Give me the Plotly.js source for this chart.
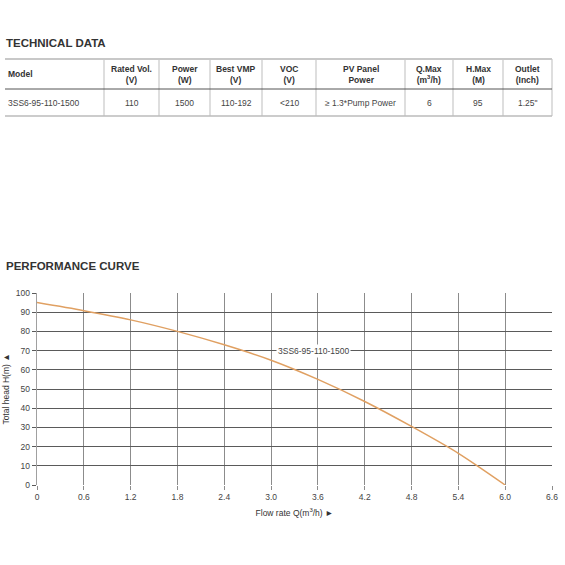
<!DOCTYPE html>
<html><head><meta charset="utf-8">
<script src="https://cdn.plot.ly/plotly-3.0.1.min.js"></script>
<style>html,body{margin:0;padding:0;background:#fff;}#chart{width:565px;height:565px;}</style>
</head><body><div id="chart"></div>
<script>
// ---- Data ----
var tableHeaders = ["Model", "Rated Vol.<br>(V)", "Power<br>(W)", "Best VMP<br>(V)", "VOC<br>(V)", "PV Panel<br>Power", "Q.Max<br>(m<sup>3</sup>/h)", "H.Max<br>(M)", "Outlet<br>(Inch)"];
var tableRow = ["3SS6-95-110-1500", "110", "1500", "110-192", "&lt;210", "\u2265 1.3*Pump Power", "6", "95", "1.25\""];
var flowRate = [0, 0.6, 1.2, 1.8, 2.4, 3.0, 3.6, 4.2, 4.8, 5.4, 6.0];
var totalHead = [95, 90.8, 86, 80, 73, 65, 55, 43.5, 30.5, 16.5, 0];
var curveName = "3SS6-95-110-1500";
var xTickVals = [0, 0.6, 1.2, 1.8, 2.4, 3.0, 3.6, 4.2, 4.8, 5.4, 6.0, 6.6];
var xTickText = ["0", "0.6", "1.2", "1.8", "2.4", "3.0", "3.6", "4.2", "4.8", "5.4", "6.0", "6.6"];
var yTickVals = [0, 10, 20, 30, 40, 50, 60, 70, 80, 90, 100];

// ---- Layout helpers (pixel -> paper) ----
var W = 565, H = 565, ML = 37, MR = 13, MT = 293, MB = 80;
var PW = W - ML - MR, PH = H - MT - MB;
function px(x) { return (x - ML) / PW; }
function py(y) { return (H - MB - y) / PH; }

var colEdges = [5, 104, 159, 210, 262, 316, 405, 453, 503, 552];
var tTop = 59, tMid = 89, tBot = 116;
var fontFam = "Liberation Sans, Arial, sans-serif";

var annotations = [];
var shapes = [];

annotations.push({xref:'paper', yref:'paper', x:px(4), y:py(43), xanchor:'left', yanchor:'middle',
  text:'<b>TECHNICAL DATA</b>', showarrow:false, font:{family:fontFam, size:11.5, color:'#333'}});
annotations.push({xref:'paper', yref:'paper', x:px(4), y:py(266), xanchor:'left', yanchor:'middle',
  text:'<b>PERFORMANCE CURVE</b>', showarrow:false, font:{family:fontFam, size:11.5, color:'#333'}});

for (var i = 0; i < tableHeaders.length; i++) {
  var left = colEdges[i], right = colEdges[i+1];
  var isFirst = (i === 0);
  var cx = isFirst ? left + 1 : (left + right) / 2;
  annotations.push({xref:'paper', yref:'paper', x:px(cx), y:py((tTop + tMid) / 2), xanchor: isFirst ? 'left' : 'center', yanchor:'middle',
    text:'<b>' + tableHeaders[i] + '</b>', showarrow:false, align:'center',
    font:{family:fontFam, size:8.5, color:'#333'}});
  annotations.push({xref:'paper', yref:'paper', x:px(cx), y:py((tMid + tBot) / 2), xanchor: isFirst ? 'left' : 'center', yanchor:'middle',
    text:tableRow[i], showarrow:false, font:{family:fontFam, size:8.5, color:'#444'}});
  if (i > 0) {
    shapes.push({type:'line', xref:'paper', yref:'paper', x0:px(left), x1:px(left), y0:py(tTop), y1:py(tBot),
      line:{color:'#c8c8c8', width:1.2}});
  }
}
shapes.push({type:'line', xref:'paper', yref:'paper', x0:px(colEdges[colEdges.length-1]), x1:px(colEdges[colEdges.length-1]), y0:py(tTop), y1:py(tBot), line:{color:'#c8c8c8', width:1.2}});
shapes.push({type:'line', xref:'paper', yref:'paper', x0:px(5), x1:px(552), y0:py(tTop), y1:py(tTop), line:{color:'#c8c8c8', width:2}});
shapes.push({type:'line', xref:'paper', yref:'paper', x0:px(5), x1:px(552), y0:py(tMid), y1:py(tMid), line:{color:'#555', width:1}});
shapes.push({type:'line', xref:'paper', yref:'paper', x0:px(5), x1:px(552), y0:py(tBot), y1:py(tBot), line:{color:'#bbb', width:1.5}});

// curve label on the chart
annotations.push({xref:'x', yref:'y', x:3.54, y:70, text:curveName, showarrow:false,
  bgcolor:'#fff', borderpad:1, font:{family:fontFam, size:8.5, color:'#444'}});

var trace = {x: flowRate, y: totalHead, type:'scatter', mode:'lines', name: curveName,
  line:{color:'#e0a062', width:1.5, shape:'spline', smoothing:0.8}, hoverinfo:'skip'};

var layout = {
  width: W, height: H, margin:{l:ML, r:MR, t:MT, b:MB}, showlegend:false,
  paper_bgcolor:'#fff', plot_bgcolor:'#fff',
  font:{family:fontFam, size:8, color:'#444'},
  xaxis:{range:[0, 6.6], tickvals:xTickVals, ticktext:xTickText, showgrid:true, gridcolor:'#8c8c8c', gridwidth:1,
    zeroline:false, showline:false, ticks:'outside', ticklen:4, tickwidth:1, tickcolor:'#8c8c8c',
    tickfont:{size:8.5, color:'#444'},
    title:{text:'Flow rate Q(m<sup>3</sup>/h) \u25BA', font:{size:8.5, color:'#333'}, standoff:8}},
  yaxis:{range:[0, 100], tickvals:yTickVals, showgrid:true, gridcolor:'#5a5a5a', gridwidth:1, zeroline:false,
    showline:true, linecolor:'#a0a0a0', linewidth:1.3, ticks:'outside', ticklen:4, tickcolor:'#5a5a5a',
    tickfont:{size:8.5, color:'#444'},
    title:{text:'Total head H(m) \u25B2', font:{size:8.5, color:'#333'}, standoff:4}},
  annotations: annotations, shapes: shapes
};

Plotly.newPlot('chart', [trace], layout, {displayModeBar:false, staticPlot:true});
</script></body></html>
